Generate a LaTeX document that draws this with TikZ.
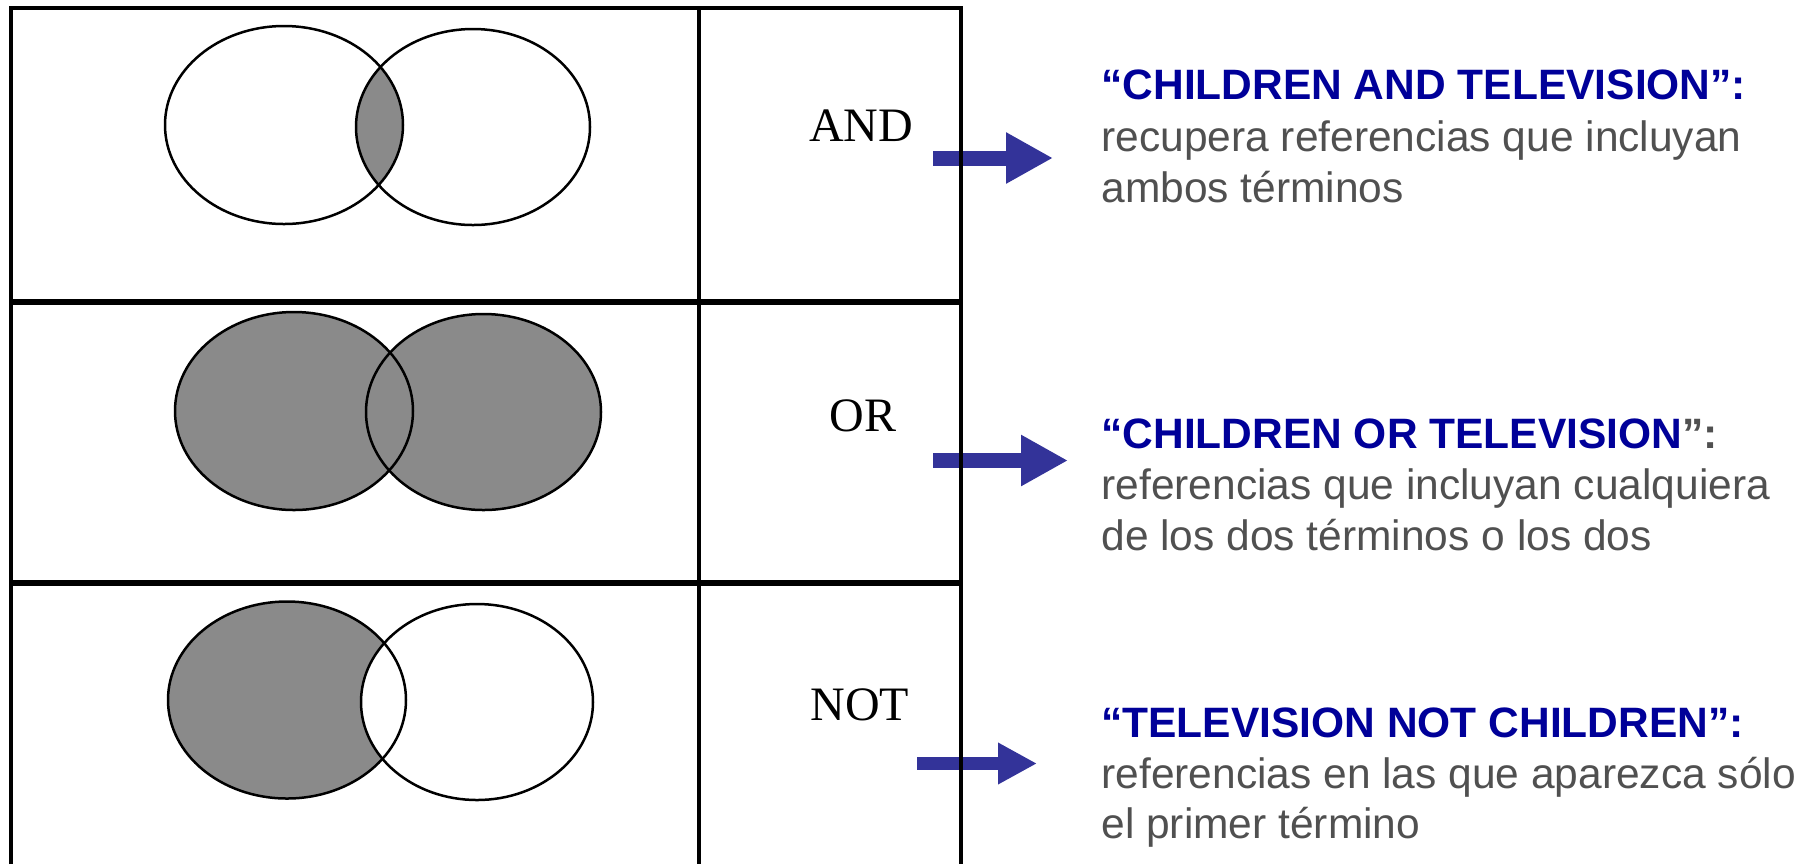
\documentclass[tikz,border=0pt]{standalone}
\usepackage{fontspec}
\setmainfont{Liberation Sans}
\newfontfamily\opfont{Liberation Serif}
\usetikzlibrary{arrows.meta}
\definecolor{headblue}{RGB}{0,0,153}
\definecolor{notegray}{RGB}{80,80,80}
\definecolor{arrowblue}{RGB}{51,51,153}
\definecolor{setgray}{RGB}{138,138,138}

\begin{document}
\begin{tikzpicture}[
	x=0.5pt, y=-0.5pt,
	opname/.style={
		font=\opfont\fontsize{24}{28}\selectfont,
		anchor=base,
		inner sep=0pt,
	},
	heading/.style={
		font=\bfseries\fontsize{21.25}{25.5}\selectfont,
		text=headblue,
		anchor=base west,
		inner sep=0pt,
	},
	note/.style={
		font=\fontsize{21.25}{25.5}\selectfont,
		text=notegray,
		anchor=base west,
		inner sep=0pt,
	},
	setline/.style={line width=1.25pt},
	frame/.style={line width=2pt},
	rowrule/.style={line width=2.75pt},
	ArrowB/.style={% Block arrows towards the notes
		arrowblue,
		line width=7.5pt,
		-{Triangle[length=23.5pt,width=24pt]},
	},
]
	\useasboundingbox (0,0) rectangle (1815,864);

	% Venn diagrams
	\coordinate (andA) at (284,125);
	\coordinate (andB) at (473,127);
	\coordinate (orA) at (294,411);
	\coordinate (orB) at (483.5,412);
	\coordinate (notA) at (287,700);
	\coordinate (notB) at (477,702);

	\begin{scope}
		\clip (andA) ellipse [x radius=119, y radius=99];
		\fill [setgray] (andB) ellipse [x radius=117, y radius=98];
	\end{scope}
	\draw [setline] (andA) ellipse [x radius=119, y radius=99];
	\draw [setline] (andB) ellipse [x radius=117, y radius=98];

	\fill [setgray] (orA) ellipse [x radius=119, y radius=99];
	\fill [setgray] (orB) ellipse [x radius=117.5, y radius=98];
	\draw [setline] (orA) ellipse [x radius=119, y radius=99];
	\draw [setline] (orB) ellipse [x radius=117.5, y radius=98];

	\fill [setgray] (notA) ellipse [x radius=119, y radius=98.5];
	\fill [white] (notB) ellipse [x radius=116, y radius=98];
	\draw [setline] (notA) ellipse [x radius=119, y radius=98.5];
	\draw [setline] (notB) ellipse [x radius=116, y radius=98];

	% Operator names
	\node [opname] (lblAnd) at (861,141) {AND};
	\node [opname] (lblOr) at (863,431) {OR};
	\node [opname] (lblNot) at (860,720) {NOT};

	% Arrows
	\coordinate (arrAndFrom) at (933,158);
	\coordinate (arrAndTo) at (1053,158);
	\coordinate (arrOrFrom) at (933,460.5);
	\coordinate (arrOrTo) at (1068,460.5);
	\coordinate (arrNotFrom) at (917,763.5);
	\coordinate (arrNotTo) at (1037,763.5);

	\draw [ArrowB] (arrAndFrom) -- (arrAndTo);
	\draw [ArrowB] (arrOrFrom) -- (arrOrTo);
	\draw [ArrowB,line width=6.5pt,-{Triangle[length=19.5pt,width=19.5pt]}] (arrNotFrom) -- (arrNotTo);

	% Table
	\draw [frame] (11,864) -- (11,8) -- (961,8) -- (961,864);
	\draw [frame] (699,8) -- (699,864);
	\draw [rowrule] (11,302) -- (961,302);
	\draw [rowrule] (11,583) -- (961,583);

	% Notes
	\node [heading] (headAnd) at (1101,99) {“CHILDREN AND TELEVISION”:};
	\node [note] (noteAndA) at (1101,151) {recupera referencias que incluyan};
	\node [note] (noteAndB) at (1101,202) {ambos términos};

	\node [heading] (headOr) at (1101,448) {“CHILDREN OR TELEVISION{\color{notegray}”:}};
	\node [note] (noteOrA) at (1101,499) {referencias que incluyan cualquiera};
	\node [note] (noteOrB) at (1101,550) {de los dos términos o los dos};

	\node [heading] (headNot) at (1101,737) {“TELEVISION NOT CHILDREN”:};
	\node [note] (noteNotA) at (1101,788) {referencias en las que aparezca sólo};
	\node [note] (noteNotB) at (1101,838) {el primer término};
\end{tikzpicture}
\end{document}
